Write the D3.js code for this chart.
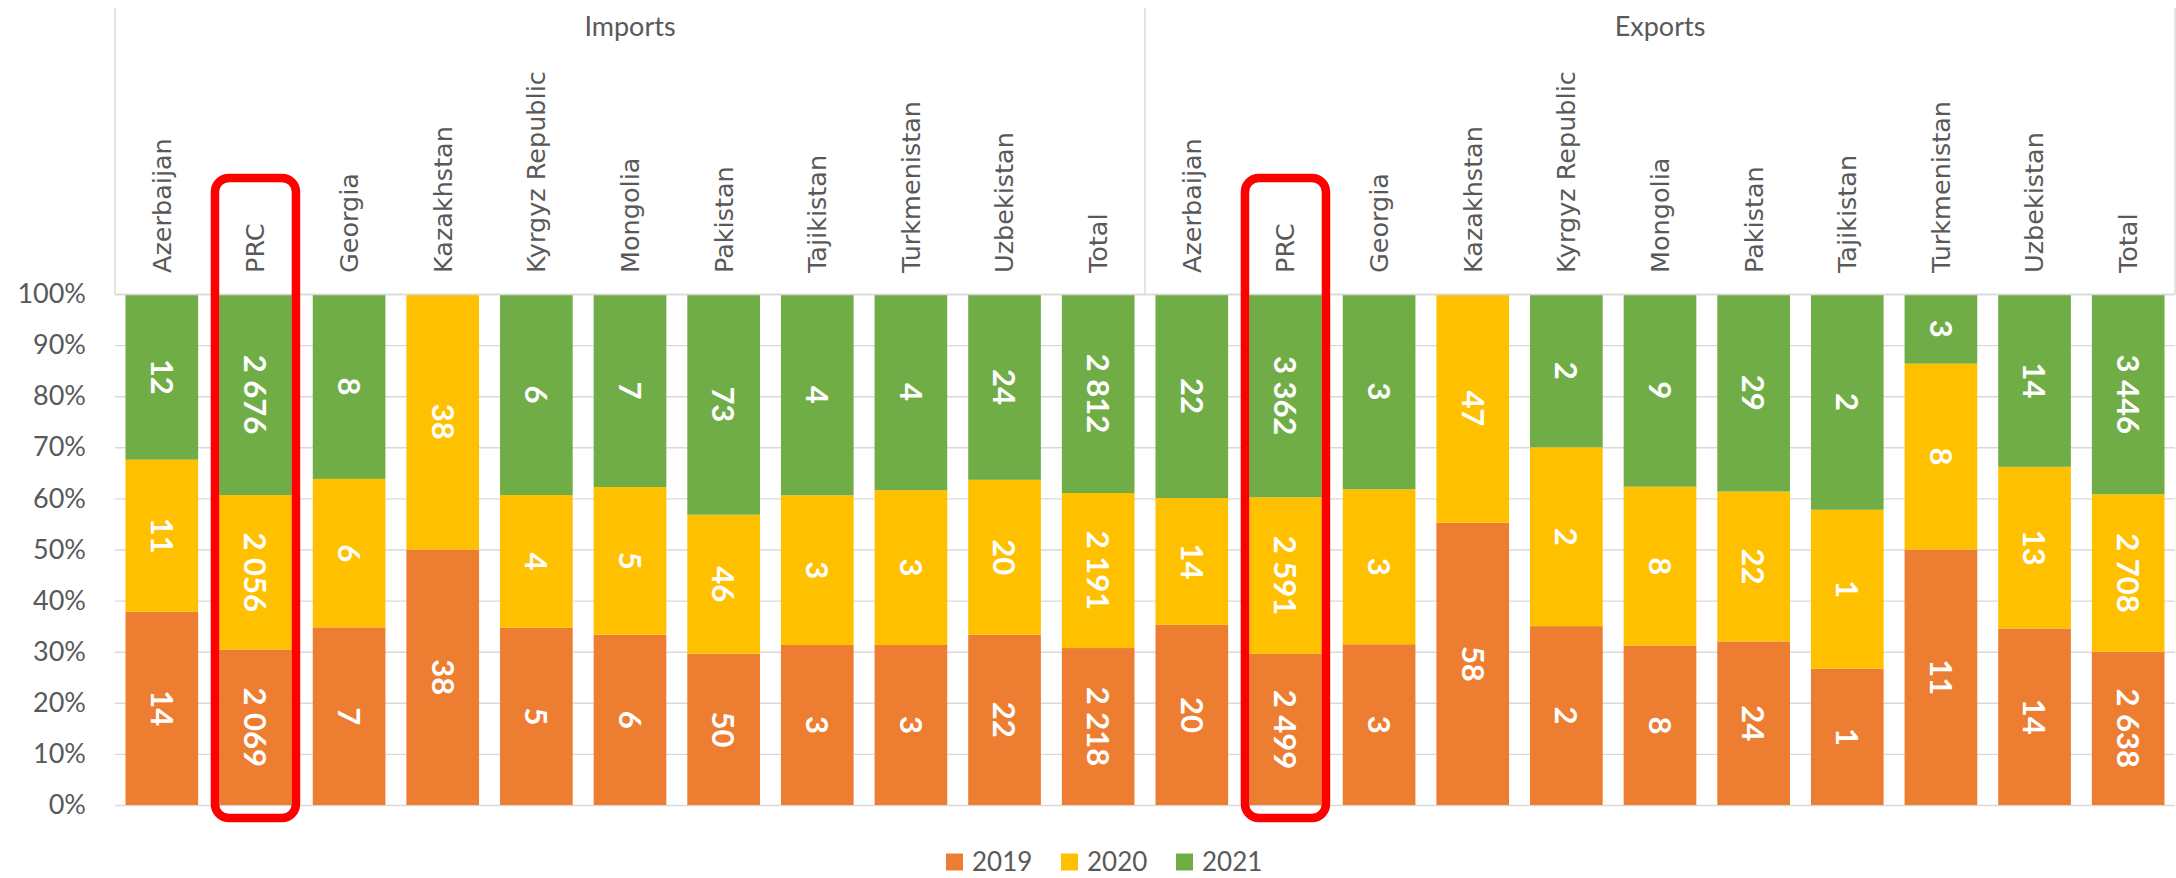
<!DOCTYPE html>
<html>
<head>
<meta charset="utf-8">
<script src="https://cdn.jsdelivr.net/npm/d3@7"></script>
<style>
  body { margin: 0; background: #fff; }
  svg { display: block; }
</style>
</head>
<body>
<div id="chart"></div>
<script>
const categories = ["Azerbaijan", "PRC", "Georgia", "Kazakhstan", "Kyrgyz Republic", "Mongolia",
                    "Pakistan", "Tajikistan", "Turkmenistan", "Uzbekistan", "Total"];
const groups = ["Imports", "Exports"];
const years = ["2019", "2020", "2021"];

// values (labels show them rounded)
const imports2019 = [14, 2069, 7.3, 38, 5.2, 6.0, 50, 3.1, 3.1, 22, 2218];
const imports2020 = [11, 2056, 6.1, 38, 3.9, 5.2, 46, 2.9, 3.0, 20, 2191];
const imports2021 = [12, 2676, 7.6, 0, 5.9, 6.8, 73, 3.9, 3.8, 24, 2812];

const exports2019 = [19.6, 2499, 2.8, 58, 2.1, 7.6, 24, 1.2, 11, 14.2, 2638];
const exports2020 = [13.8, 2591, 2.7, 47, 2.1, 7.6, 22, 1.4, 8, 13.0, 2708];
const exports2021 = [22.2, 3362, 3.4, 0, 1.8, 9.2, 29, 1.9, 3, 13.9, 3446];

const yTicks = [0, 0.1, 0.2, 0.3, 0.4, 0.5, 0.6, 0.7, 0.8, 0.9, 1];
const highlighted = "PRC";

const colors = { "2019": "#ED7D31", "2020": "#FFC000", "2021": "#70AD47" };
const textColor = "#595959", gridColor = "#d9d9d9";

const width = 2176, height = 878;
const plotLeft = 115, plotRight = 2175, plotTop = 294, plotBottom = 805;

const series = {
  Imports: [imports2019, imports2020, imports2021],
  Exports: [exports2019, exports2020, exports2021]
};

const rows = [];
groups.forEach(g => {
  categories.forEach((c, i) => {
    const r = { key: g + "|" + c, group: g, cat: c };
    years.forEach((yr, k) => r[yr] = series[g][k][i]);
    rows.push(r);
  });
});

const fmt = d3.formatLocale({ decimal: ".", thousands: " ", grouping: [3], currency: ["", ""] }).format(",.0f");

const svg = d3.select("#chart").append("svg")
  .attr("width", width).attr("height", height);

const x = d3.scaleBand()
  .domain(rows.map(r => r.key))
  .range([plotLeft, plotRight])
  .paddingInner(0.224)
  .paddingOuter(0.112);

const y = d3.scaleLinear().domain([0, 1]).range([plotBottom, plotTop]);

// gridlines
const grid = svg.append("g")
  .attr("transform", `translate(${plotLeft},0)`)
  .call(d3.axisLeft(y).tickValues(yTicks).tickSize(-(plotRight - plotLeft)).tickFormat(""));
grid.select(".domain").remove();
grid.selectAll("line").attr("stroke", gridColor).attr("stroke-width", 1.4);

// y axis labels
const yAxis = svg.append("g")
  .attr("transform", `translate(${plotLeft},0)`)
  .call(d3.axisLeft(y).tickValues(yTicks).tickSize(0).tickPadding(29).tickFormat(d3.format(".0%")));
yAxis.select(".domain").remove();
yAxis.selectAll("text")
  .attr("fill", textColor)
  .attr("font-family", "Lato, sans-serif")
  .attr("font-size", "27px");

// stacked bars
const stacked = d3.stack().keys(years).offset(d3.stackOffsetExpand)(rows);

const layer = svg.append("g").selectAll("g")
  .data(stacked)
  .join("g")
  .attr("fill", d => colors[d.key]);

layer.selectAll("rect")
  .data(d => d)
  .join("rect")
  .attr("x", d => x(d.data.key))
  .attr("width", x.bandwidth())
  .attr("y", d => y(d[1]))
  .attr("height", d => y(d[0]) - y(d[1]));

// data labels
stacked.forEach(s => {
  svg.append("g").selectAll("text")
    .data(s.filter(d => d.data[s.key] > 0))
    .join("text")
    .attr("transform", d => `translate(${x(d.data.key) + x.bandwidth() / 2},${y((d[0] + d[1]) / 2)}) rotate(90)`)
    .attr("text-anchor", "middle")
    .attr("dy", "0.36em")
    .attr("fill", "#fff")
    .attr("font-family", "Lato, sans-serif")
    .attr("font-weight", 700)
    .attr("font-size", "31px")
    .text(d => fmt(d.data[s.key]));
});

// category axis on top
const half = x.step() * x.paddingInner() / 2;
const topAxis = svg.append("g")
  .attr("transform", `translate(0,${plotTop})`)
  .call(d3.axisTop(x).tickSize(0).tickFormat(k => k.split("|")[1]));
topAxis.select(".domain").attr("stroke", gridColor).attr("stroke-width", 1.4);
topAxis.selectAll("text")
  .attr("transform", "translate(0,-21) rotate(-90)")
  .attr("x", 0).attr("y", 0).attr("dy", "0.35em")
  .attr("text-anchor", "start")
  .attr("fill", textColor)
  .attr("font-family", "'DejaVu Sans', Verdana, sans-serif")
  .attr("font-size", "25.5px");

// group dividers and group labels
const groupBounds = groups.map(g => {
  const keys = rows.filter(r => r.group === g).map(r => r.key);
  return { g, x0: x(keys[0]) - half, x1: x(keys[keys.length - 1]) + x.bandwidth() + half };
});
const edges = [groupBounds[0].x0, ...groupBounds.map(b => b.x1)];
svg.append("g").selectAll("line")
  .data(edges)
  .join("line")
  .attr("x1", d => d).attr("x2", d => d)
  .attr("y1", 8).attr("y2", plotTop)
  .attr("stroke", gridColor).attr("stroke-width", 1.4);

svg.append("g").selectAll("text")
  .data(groupBounds)
  .join("text")
  .attr("x", d => (d.x0 + d.x1) / 2)
  .attr("y", 36)
  .attr("text-anchor", "middle")
  .attr("fill", textColor)
  .attr("font-family", "Lato, sans-serif")
  .attr("font-size", "27px")
  .text(d => d.g);

// red highlight boxes
svg.append("g").selectAll("rect")
  .data(groups.map(g => g + "|" + highlighted))
  .join("rect")
  .attr("x", k => x(k) + x.bandwidth() / 2 - 40.5)
  .attr("width", 81)
  .attr("y", y(1) - 116)
  .attr("height", (y(0) + 13) - (y(1) - 116))
  .attr("rx", 14)
  .attr("fill", "none")
  .attr("stroke", "#FF0000")
  .attr("stroke-width", 8.5);

// legend
const legend = svg.append("g").attr("transform", "translate(946,862)");
const item = legend.selectAll("g")
  .data(years)
  .join("g")
  .attr("transform", (d, i) => `translate(${i * 115},0)`);
item.append("rect")
  .attr("x", 0).attr("y", -8.5)
  .attr("width", 17).attr("height", 17)
  .attr("fill", d => colors[d]);
item.append("text")
  .attr("x", 26).attr("y", 0).attr("dy", "0.36em")
  .attr("fill", textColor)
  .attr("font-family", "Lato, sans-serif")
  .attr("font-size", "26px")
  .text(d => d);
</script>
</body>
</html>
